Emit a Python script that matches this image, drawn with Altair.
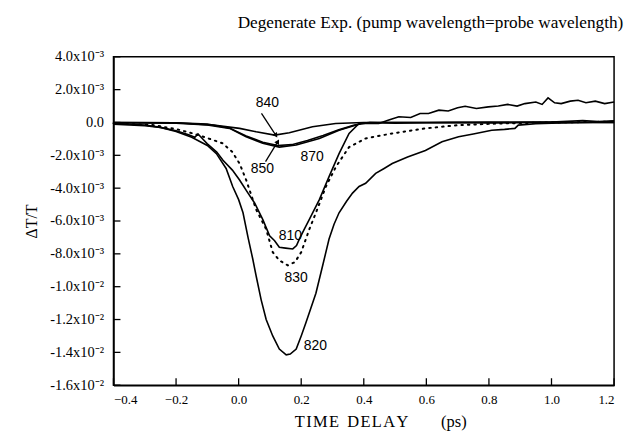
import altair as alt
import pandas as pd

# ---- data (delta T/T in units of 1e-3, time in ps) ----
t820 = [-0.4, -0.35, -0.3, -0.25, -0.2, -0.15, -0.1, -0.071, -0.04, -0.019, 0.0, 0.014, 0.03, 0.045, 0.056,
        0.072, 0.088, 0.109, 0.13, 0.152, 0.165, 0.184, 0.2, 0.215, 0.247, 0.27, 0.289, 0.305, 0.321, 0.345,
        0.364, 0.385, 0.406, 0.438, 0.465, 0.491, 0.54, 0.597, 0.65, 0.703, 0.75, 0.809, 0.85, 0.883, 0.894,
        0.95, 1.0, 1.1, 1.2]
v820 = [-0.1, -0.15, -0.2, -0.3, -0.55, -0.9, -1.4, -1.9, -2.8, -3.9, -4.7, -5.5, -7.0, -8.3, -9.35,
        -10.8, -12.0, -13.0, -13.8, -14.15, -14.1, -13.8, -13.0, -12.2, -10.4, -8.6, -7.1, -6.2, -5.5, -4.8,
        -4.3, -3.9, -3.7, -3.1, -2.8, -2.5, -2.1, -1.7, -1.17, -0.87, -0.7, -0.47, -0.42, -0.36, -0.16,
        -0.08, -0.05, 0.0, 0.05]

t810 = [-0.4, -0.3, -0.25, -0.2, -0.16, -0.14, -0.13, -0.12, -0.1, -0.07, -0.05, -0.02, 0.003, 0.03, 0.051,
        0.077, 0.099, 0.115, 0.13, 0.15, 0.173, 0.185, 0.194, 0.21, 0.226, 0.258, 0.289, 0.321, 0.353, 0.385,
        0.417, 0.5, 0.6, 0.7, 0.8, 0.9, 1.0, 1.1, 1.15, 1.2]
v810 = [-0.05, -0.15, -0.3, -0.5, -0.75, -0.9, -0.7, -0.9, -1.3, -1.8, -2.3, -2.9, -3.5, -4.3, -4.9,
        -5.9, -6.9, -7.2, -7.6, -7.65, -7.7, -7.5, -7.1, -6.5, -5.9, -4.7, -3.3, -1.9, -0.67, -0.06,
        0.0, -0.05, -0.02, 0.0, -0.03, 0.0, 0.02, 0.12, 0.05, 0.1]

t830 = [-0.4, -0.274, -0.2, -0.146, -0.1, -0.051, -0.02, 0.003, 0.024, 0.056, 0.088, 0.109, 0.13, 0.157,
        0.18, 0.2, 0.226, 0.247, 0.279, 0.311, 0.353, 0.406, 0.49, 0.597, 0.703, 0.83, 1.0, 1.2]
v830 = [-0.05, -0.16, -0.4, -0.67, -0.95, -1.27, -1.8, -2.5, -3.5, -5.3, -6.5, -7.9, -8.4, -8.7,
        -8.5, -7.9, -6.5, -5.5, -3.9, -2.7, -1.5, -0.97, -0.67, -0.36, -0.16, -0.06, 0.0, 0.05]

t840 = [-0.4, -0.2, -0.08, 0.003, 0.056, 0.115, 0.162, 0.236, 0.31, 0.4, 0.6, 0.8, 1.0, 1.2]
v840 = [0.0, -0.02, -0.16, -0.36, -0.57, -0.77, -0.63, -0.26, -0.06, 0.0, 0.0, 0.0, 0.02, 0.0]

t850 = [-0.4, -0.2, -0.1, -0.03, 0.024, 0.077, 0.125, 0.17, 0.22, 0.27, 0.32, 0.37, 0.42, 0.6, 0.8, 1.0, 1.2]
v850 = [0.0, -0.02, -0.1, -0.33, -0.82, -1.2, -1.4, -1.35, -1.1, -0.8, -0.45, -0.15, 0.0, 0.0, 0.02, 0.0, 0.0]

t870 = [-0.4, -0.2, -0.1, -0.029, 0.024, 0.077, 0.13, 0.184, 0.258, 0.321, 0.394, 0.448, 0.48, 0.512, 0.55,
        0.58, 0.607, 0.64, 0.67, 0.7, 0.724, 0.76, 0.798, 0.83, 0.86, 0.89, 0.915, 0.95, 0.97, 0.989, 1.01,
        1.031, 1.06, 1.085, 1.11, 1.14, 1.17, 1.2]
v870 = [-0.02, -0.05, -0.15, -0.36, -0.87, -1.27, -1.5, -1.37, -0.97, -0.47, -0.05, -0.06, 0.15, 0.35, 0.3,
        0.55, 0.55, 0.75, 0.7, 0.9, 0.99, 0.85, 0.95, 1.0, 1.1, 1.0, 1.15, 1.25, 1.1, 1.5, 1.2,
        1.15, 1.3, 1.35, 1.2, 1.3, 1.15, 1.25]

label_text = ["840", "850", "870", "810", "830", "820"]
label_t = [0.092, 0.076, 0.235, 0.165, 0.184, 0.245]
label_v = [1.2, -2.85, -2.1, -6.9, -9.45, -13.6]

arrow_t = [0.073, 0.086]
arrow_v = [0.55, -2.38]
arrow_t2 = [0.118, 0.124]
arrow_v2 = [-0.75, -1.2]
arrow_angle = [147, 30]

x_ticks = [-0.4, -0.2, 0.0, 0.2, 0.4, 0.6, 0.8, 1.0, 1.2]
y_ticks = [4, 2, 0, -2, -4, -6, -8, -10, -12, -14, -16]
y_labels = ["4.0x10\u207b\u00b3", "2.0x10\u207b\u00b3", "0.0", "-2.0x10\u207b\u00b3", "-4.0x10\u207b\u00b3",
            "-6.0x10\u207b\u00b3", "-8.0x10\u207b\u00b3", "-1.0x10\u207b\u00b2", "-1.2x10\u207b\u00b2",
            "-1.4x10\u207b\u00b2", "-1.6x10\u207b\u00b2"]

# ---- tables ----
rows = []
for name, ts, vs in [("810", t810, v810), ("820", t820, v820), ("830", t830, v830),
                     ("840", t840, v840), ("850", t850, v850), ("870", t870, v870)]:
    for i, (a, b) in enumerate(zip(ts, vs)):
        rows.append({"series": name, "t": a, "v": b, "i": i})
lines_df = pd.DataFrame(rows)
labels_df = pd.DataFrame({"text": label_text, "t": label_t, "v": label_v})
arrows_df = pd.DataFrame({"t": arrow_t, "v": arrow_v, "t2": arrow_t2, "v2": arrow_v2, "angle": arrow_angle})
xt_df = pd.DataFrame({"t": x_ticks})
yt_df = pd.DataFrame({"v": y_ticks})

W, H = 503, 330
serif = "Liberation Serif"
sans = "Liberation Sans"

lab_expr = "[" + ",".join("'" + s + "'" for s in y_labels) + "][indexof([" + ",".join(str(v) for v in y_ticks) + "], datum.value)]"

xs = alt.Scale(domain=[-0.4, 1.2], nice=False, zero=False)
ys = alt.Scale(domain=[-16, 4], nice=False, zero=False)

hs = "\u200a"
x_title = hs.join("TIME") + "\u2002" + hs.join("DELAY") + "\u2003\u2003(ps)"

xaxis = alt.Axis(values=x_ticks, format=".1f", title=x_title, tickSize=0, labelPadding=8,
                 labelFont=serif, labelFontSize=13, labelOverlap=False,
                 titleFont=serif, titleFontSize=16.5, titleFontWeight="normal",
                 titlePadding=7, titleX=268, grid=False, domainColor="black", domainWidth=1.5, labelColor="black",
                 titleColor="black")
yaxis = alt.Axis(values=y_ticks, labelExpr=lab_expr, title="\u0394T/T", tickSize=0, labelPadding=10,
                 labelFont=serif, labelFontSize=14.5, labelOverlap=False,
                 titleFont=serif, titleFontSize=16, titleFontWeight="normal",
                 titlePadding=10, grid=False, domainColor="black", domainWidth=1.5, labelColor="black",
                 titleColor="black")

X = alt.X("t:Q", scale=xs, axis=xaxis)
Y = alt.Y("v:Q", scale=ys, axis=yaxis)

base = alt.Chart(lines_df)
solid = base.transform_filter("datum.series != '830'").mark_line(
    color="black", strokeWidth=1.6, interpolate="linear").encode(
    x=X, y=Y, detail="series:N", order="i:Q")
dotted = base.transform_filter("datum.series == '830'").mark_line(
    color="black", strokeWidth=2, strokeDash=[1.5, 5], strokeCap="round").encode(
    x=X, y=Y, order="i:Q")

texts = alt.Chart(labels_df).mark_text(font=sans, fontSize=14, color="black").encode(
    x=X, y=Y, text="text:N")

arrows = alt.Chart(arrows_df).mark_rule(color="black", strokeWidth=1.3).encode(
    x=X, y=Y, x2="t2:Q", y2="v2:Q")
heads = alt.Chart(arrows_df).mark_point(shape="triangle", filled=True, size=30, color="black", opacity=1).encode(
    x=alt.X("t2:Q", scale=xs, axis=xaxis), y=alt.Y("v2:Q", scale=ys, axis=yaxis),
    angle=alt.Angle("angle:Q", scale=None))

xt = alt.Chart(xt_df).mark_rule(color="black", strokeWidth=1.3).encode(
    x=X, y=alt.value(H), y2=alt.value(H - 7))
yt = alt.Chart(yt_df).mark_rule(color="black", strokeWidth=1.3).encode(
    y=Y, x=alt.value(0), x2=alt.value(7))

chart = alt.layer(solid, dotted, arrows, heads, texts, xt, yt).properties(
    width=W, height=H, background="white",
    title=alt.TitleParams("Degenerate Exp. (pump wavelength=probe wavelength)", font=serif, fontSize=17.3,
                          fontWeight="normal", color="black", anchor="middle", dx=67, offset=18),
    padding={"left": 15, "top": 4, "right": 5, "bottom": 5},
).configure_view(stroke="black", strokeWidth=1.5).configure_axis(labelOverlap=False)

chart.save("out.html", embed_options={"renderer": "svg", "actions": False})
